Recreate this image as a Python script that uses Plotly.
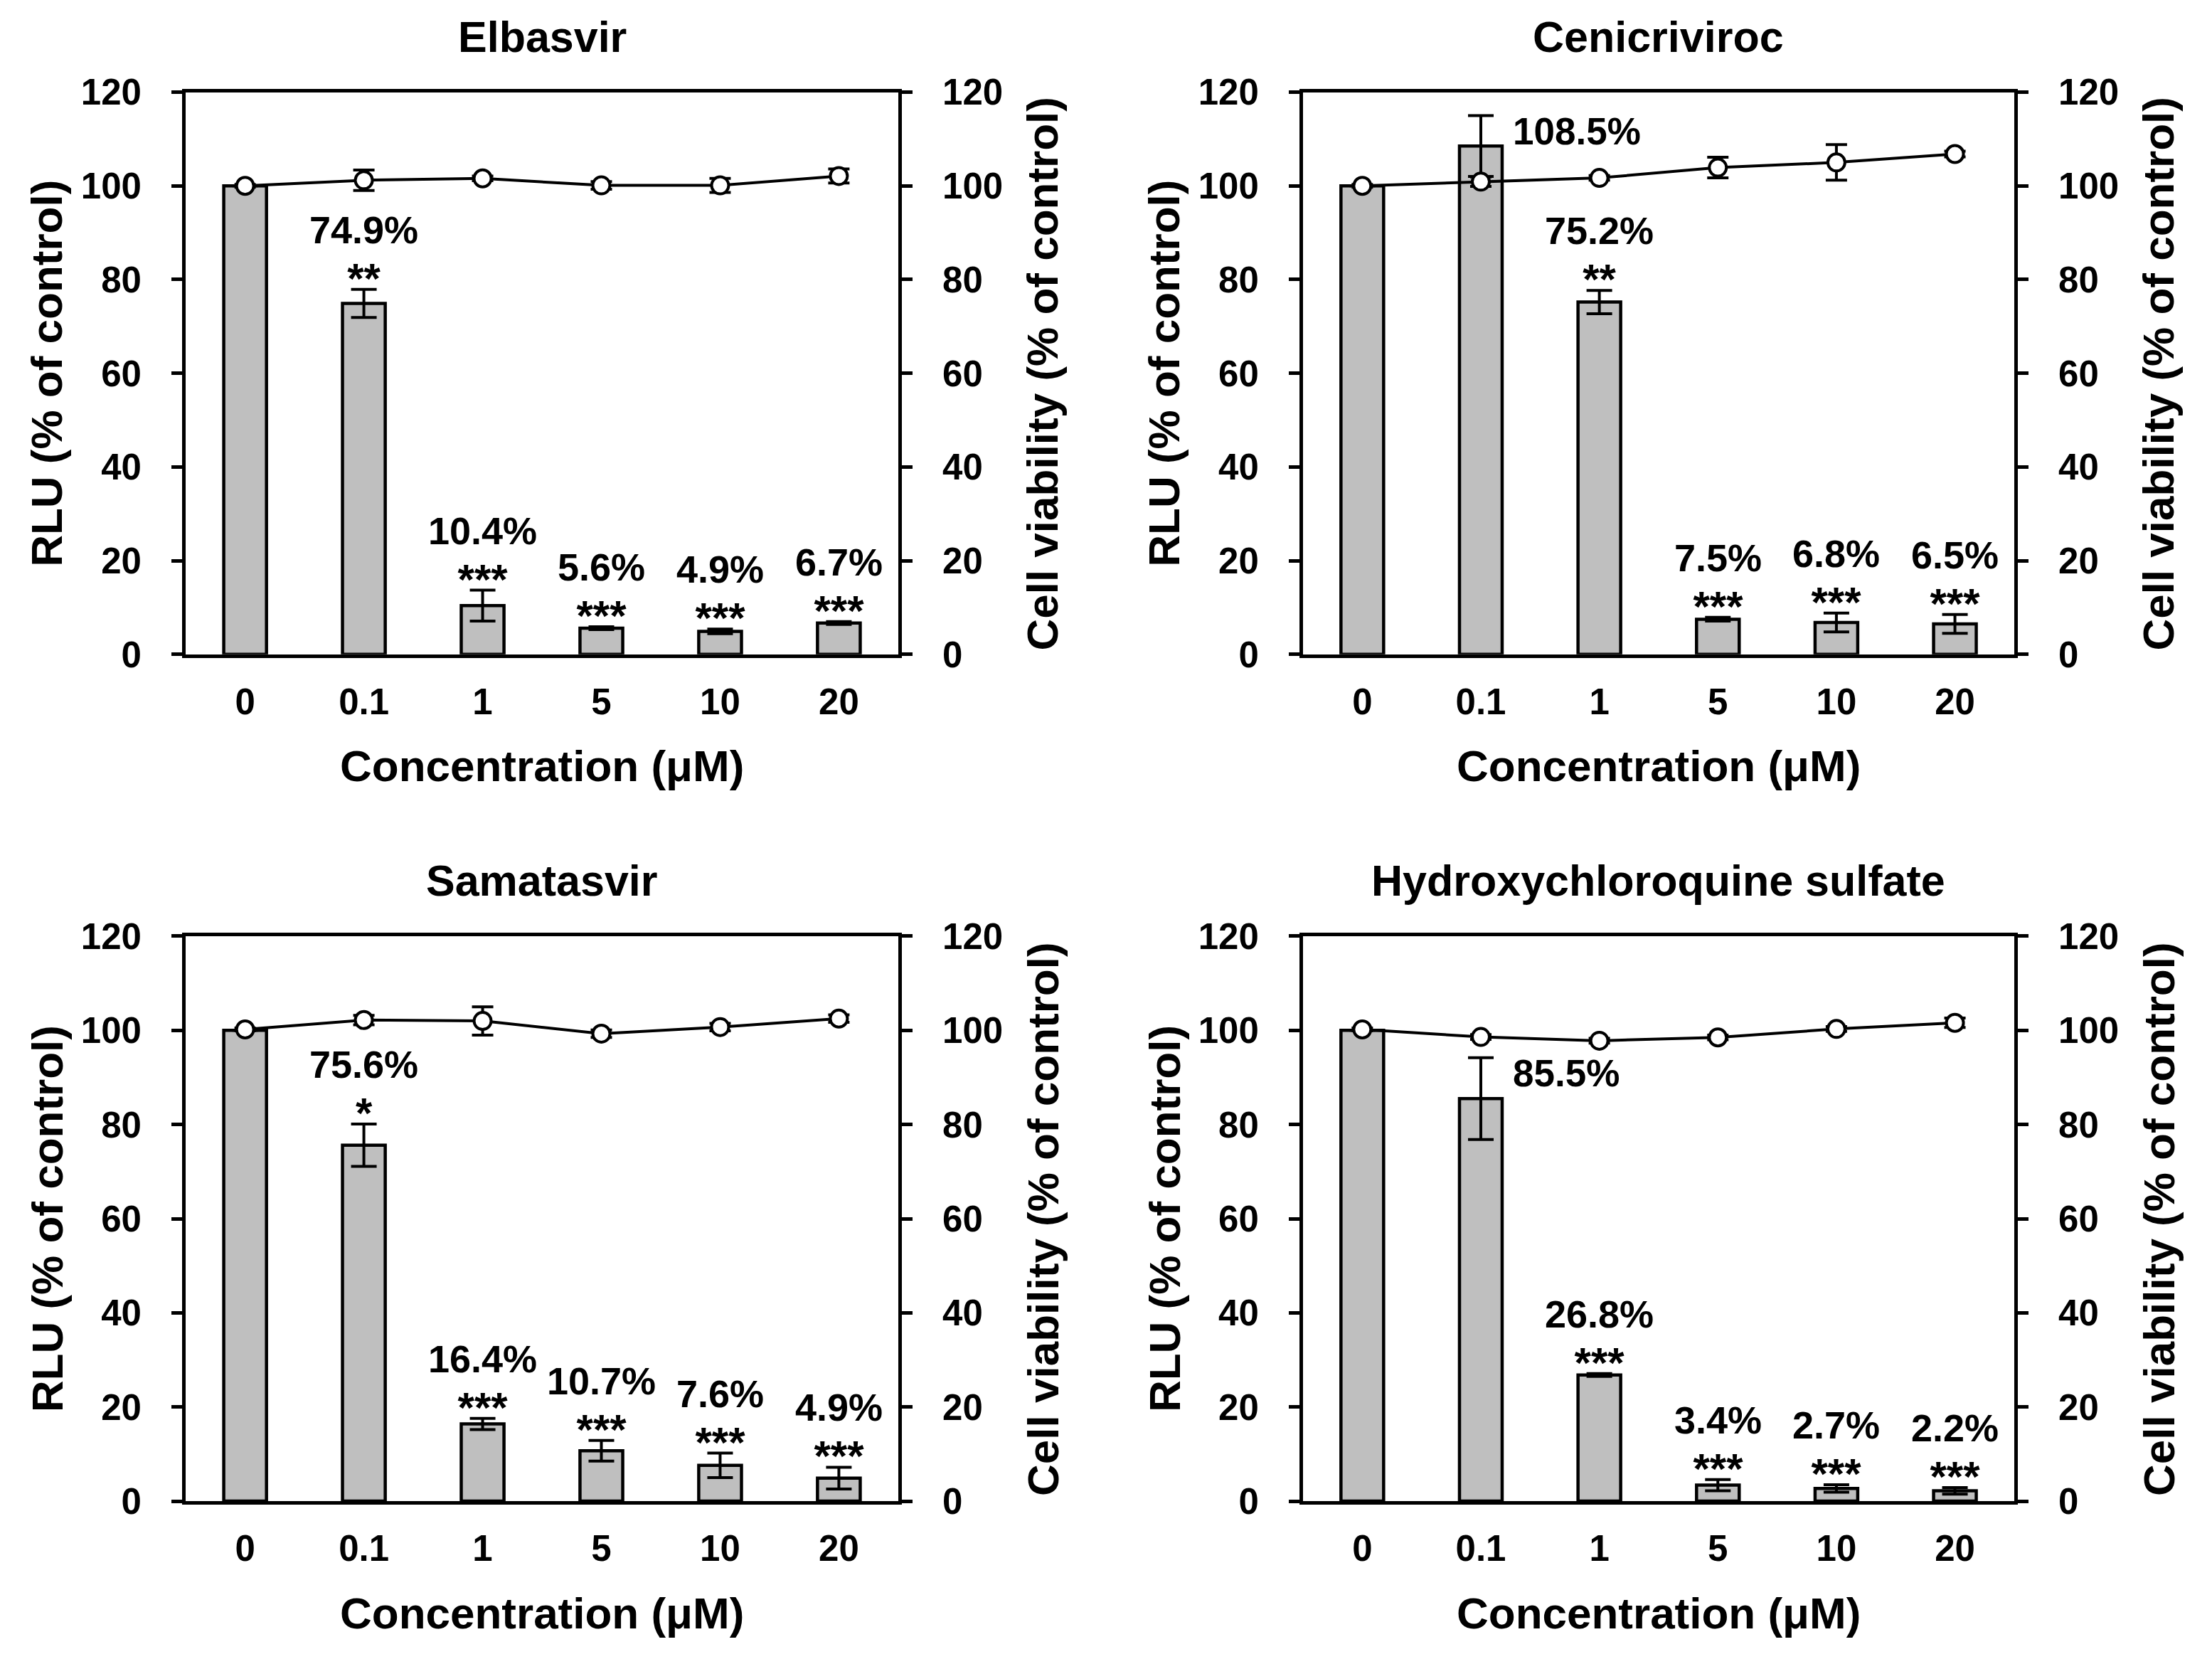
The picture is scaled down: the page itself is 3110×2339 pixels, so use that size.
import plotly.graph_objects as go

# concentrations (uM)
conc = ["0", "0.1", "1", "5", "10", "20"]

drugs = ["Elbasvir", "Cenicriviroc", "Samatasvir", "Hydroxychloroquine sulfate"]

# RLU (% of control), bars
rlu_elbasvir = [100, 74.9, 10.4, 5.6, 4.9, 6.7]
rlu_elbasvir_err = [0, 3.0, 3.3, 0.3, 0.5, 0.3]
rlu_cenicriviroc = [100, 108.5, 75.2, 7.5, 6.8, 6.5]
rlu_cenicriviroc_err = [0, 6.5, 2.5, 0.4, 2.0, 2.0]
rlu_samatasvir = [100, 75.6, 16.4, 10.7, 7.6, 4.9]
rlu_samatasvir_err = [0, 4.5, 1.2, 2.2, 2.6, 2.3]
rlu_hcq = [100, 85.5, 26.8, 3.4, 2.7, 2.2]
rlu_hcq_err = [0, 8.7, 0.3, 1.2, 0.8, 0.7]

# cell viability (% of control), line
via_elbasvir = [100, 101.2, 101.6, 100.1, 100.1, 102.1]
via_elbasvir_err = [0.3, 2.2, 0.5, 0.8, 1.5, 1.5]
via_cenicriviroc = [100, 100.9, 101.7, 103.9, 105.0, 106.8]
via_cenicriviroc_err = [0.3, 1.0, 0.5, 2.2, 3.8, 0.6]
via_samatasvir = [100.2, 102.2, 102.0, 99.3, 100.7, 102.5]
via_samatasvir_err = [0.3, 1.0, 3.0, 0.8, 0.8, 0.8]
via_hcq = [100.2, 98.6, 97.8, 98.5, 100.3, 101.6]
via_hcq_err = [0.3, 0.5, 0.5, 0.5, 0.5, 1.0]

# significance marks
stars_elbasvir = ["", "**", "***", "***", "***", "***"]
stars_cenicriviroc = ["", "", "**", "***", "***", "***"]
stars_samatasvir = ["", "*", "***", "***", "***", "***"]
stars_hcq = ["", "", "***", "***", "***", "***"]

rlu = [rlu_elbasvir, rlu_cenicriviroc, rlu_samatasvir, rlu_hcq]
rlu_err = [rlu_elbasvir_err, rlu_cenicriviroc_err, rlu_samatasvir_err, rlu_hcq_err]
via = [via_elbasvir, via_cenicriviroc, via_samatasvir, via_hcq]
via_err = [via_elbasvir_err, via_cenicriviroc_err, via_samatasvir_err, via_hcq_err]
stars = [stars_elbasvir, stars_cenicriviroc, stars_samatasvir, stars_hcq]

W, H = 3110, 2339
FONT = "Liberation Sans, Arial, Helvetica, sans-serif"
x_domains = [[0.0814, 0.4035], [0.5865, 0.9080]]
y_domains = [[0.6127, 0.9590], [0.0911, 0.4391]]

fig = go.Figure()
layout = dict(
    width=W, height=H,
    margin=dict(l=0, r=0, t=0, b=0),
    paper_bgcolor="white", plot_bgcolor="white",
    showlegend=False,
    font=dict(family=FONT, size=51, color="black", weight="bold"),
    annotations=[],
)

for k in range(4):
    col, row = k % 2, k // 2
    xa = "x" if k == 0 else f"x{k + 1}"
    ya = f"y{2 * k + 1}" if k else "y"
    yb = f"y{2 * k + 2}"

    fig.add_trace(go.Bar(
        x=conc, y=rlu[k], xaxis=xa, yaxis=ya, width=0.36,
        marker=dict(color="#bfbfbf", line=dict(color="black", width=4.5)),
        error_y=dict(type="data", array=rlu_err[k], color="black",
                     thickness=4, width=18),
    ))
    fig.add_trace(go.Scatter(
        x=conc, y=via[k], xaxis=xa, yaxis=yb, mode="lines+markers",
        line=dict(color="black", width=4),
        marker=dict(symbol="circle", size=24, color="white",
                    line=dict(color="black", width=4)),
        error_y=dict(type="data", array=via_err[k], color="black",
                     thickness=4, width=15),
    ))

    xkey = "xaxis" if k == 0 else f"xaxis{k + 1}"
    ykey = "yaxis" if k == 0 else f"yaxis{2 * k + 1}"
    ykey2 = f"yaxis{2 * k + 2}"
    layout[xkey] = dict(
        domain=x_domains[col], anchor=ya, type="category",
        categoryorder="array", categoryarray=conc, range=[-0.5, 5.5],
        showline=True, linecolor="black", linewidth=5, mirror=True,
        ticks="", showgrid=False, zeroline=False,
        tickfont=dict(size=51), ticklabelstandoff=18,
    )
    axis_y = dict(
        range=[0, 120], dtick=20, showline=True, linecolor="black",
        linewidth=5, ticks="outside", ticklen=15, tickwidth=5,
        tickcolor="black", showgrid=False, zeroline=False,
        tickfont=dict(size=51), ticklabelstandoff=32,
    )
    layout[ykey] = dict(axis_y, domain=y_domains[row], anchor=xa, side="left")
    layout[ykey2] = dict(axis_y, anchor=xa, overlaying=ya, side="right")

    x0, x1 = x_domains[col]
    y0, y1 = y_domains[row]
    xc = (x0 + x1) / 2
    ann = layout["annotations"]
    # panel title
    ann.append(dict(text=drugs[k], xref="paper", yref="paper", x=xc,
                    y=y1 + 80 / H, xanchor="center", yanchor="middle",
                    showarrow=False, font=dict(size=61)))
    # x axis title
    ann.append(dict(text="Concentration (μM)", xref="paper", yref="paper",
                    x=xc, y=y0 - 161 / H, xanchor="center", yanchor="middle",
                    showarrow=False, font=dict(size=62)))
    # left and right y axis titles
    ann.append(dict(text="RLU (% of control)", xref="paper", yref="paper",
                    x=x0 - 195 / W, y=(y0 + y1) / 2, textangle=-90,
                    xanchor="center", yanchor="middle", showarrow=False,
                    font=dict(size=62)))
    ann.append(dict(text="Cell viability (% of control)", xref="paper",
                    yref="paper", x=x1 + 203 / W, y=(y0 + y1) / 2,
                    textangle=-90, xanchor="center", yanchor="middle",
                    showarrow=False, font=dict(size=62)))

    # value labels with significance stars underneath
    for i in range(1, len(conc)):
        top = rlu[k][i] + rlu_err[k][i]
        label = f"{rlu[k][i]:.1f}%"
        if stars[k][i]:
            text = f"{label}<br><span style='font-size:60px'>{stars[k][i]}</span>"
            ann.append(dict(text=text, xref=xa, yref=ya, x=i, y=top,
                            xanchor="center", yanchor="bottom", yshift=-20,
                            showarrow=False, font=dict(size=54)))
        else:
            ann.append(dict(text=label, xref=xa, yref=ya, x=i + 0.26,
                            y=top - 3.3, xanchor="left",
                            yanchor="middle", showarrow=False,
                            font=dict(size=53)))

fig.update_layout(**layout)
fig.write_html("out.html")
